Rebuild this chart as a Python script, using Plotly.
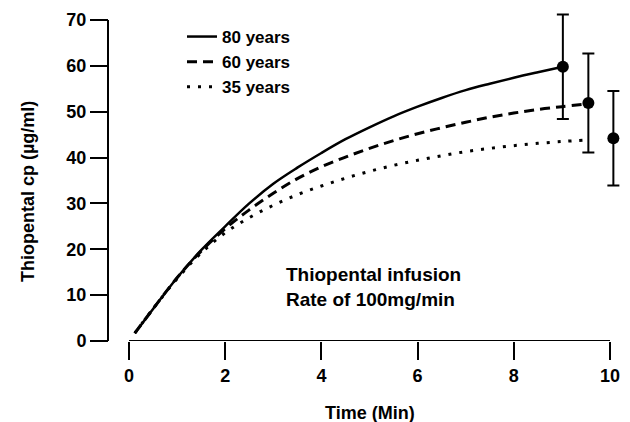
import plotly.graph_objects as go

# ---- data ----
time_80 = [0.12, 0.5, 1.0, 1.5, 2.0, 2.5, 3.0, 3.5, 4.0, 4.5, 5.0, 5.5, 6.0, 6.5, 7.0, 7.5, 8.0, 8.5, 9.02]
cp_80 = [1.7, 7.0, 13.8, 19.8, 25.0, 30.0, 34.3, 37.8, 41.0, 44.0, 46.6, 49.0, 51.1, 53.0, 54.7, 56.1, 57.4, 58.6, 59.8]

time_60 = [0.12, 0.5, 1.0, 1.5, 2.0, 2.5, 3.0, 3.5, 4.0, 4.5, 5.0, 5.5, 6.0, 6.5, 7.0, 7.5, 8.0, 8.5, 9.0, 9.45]
cp_60 = [1.7, 7.0, 13.8, 19.6, 24.5, 28.6, 32.2, 35.4, 38.0, 40.1, 42.0, 43.7, 45.2, 46.5, 47.7, 48.8, 49.7, 50.5, 51.1, 51.6]

time_35 = [0.12, 0.5, 1.0, 1.5, 2.0, 2.5, 3.0, 3.5, 4.0, 4.5, 5.0, 5.5, 6.0, 6.5, 7.0, 7.5, 8.0, 8.5, 9.0, 9.45]
cp_35 = [1.7, 7.0, 13.6, 19.2, 23.6, 26.9, 29.6, 31.9, 33.8, 35.5, 37.0, 38.3, 39.4, 40.4, 41.3, 42.0, 42.6, 43.1, 43.5, 43.8]

end_time = [9.02, 9.55, 10.07]
end_cp = [59.8, 51.9, 44.2]
end_sd = [11.4, 10.8, 10.3]

x_ticks = [0, 2, 4, 6, 8, 10]
y_ticks = [0, 10, 20, 30, 40, 50, 60, 70]

FONT = "Liberation Sans, Arial, sans-serif"
W, H = 630, 422

# pixel layout of the axes
X0_PX, X10_PX = 129, 610          # x = 0 and x = 10
Y0_PX, Y70_PX = 341, 20           # y = 0 and y = 70
x_per = (X10_PX - X0_PX) / (x_ticks[-1] - x_ticks[0])
y_per = (Y0_PX - Y70_PX) / (y_ticks[-1] - y_ticks[0])
x_range = [0, 10.4]
y_range = [0, 72.5]
x_dom = [X0_PX / W, (X0_PX + x_range[1] * x_per) / W]
y_dom = [1 - Y0_PX / H, 1 - (Y0_PX - y_range[1] * y_per) / H]

fig = go.Figure()
fig.add_trace(go.Scatter(x=time_80, y=cp_80, mode="lines", name="80 years",
                         line=dict(color="black", width=2.5, shape="spline")))
fig.add_trace(go.Scatter(x=time_60, y=cp_60, mode="lines", name="60 years",
                         line=dict(color="black", width=3, dash="10px,6px", shape="spline")))
fig.add_trace(go.Scatter(x=time_35, y=cp_35, mode="lines", name="35 years",
                         line=dict(color="black", width=3, dash="3px,8px", shape="spline")))
fig.add_trace(go.Scatter(x=end_time, y=end_cp, mode="markers", showlegend=False,
                         marker=dict(color="black", size=12),
                         error_y=dict(type="data", array=end_sd, color="black",
                                      thickness=2, width=6)))

# axis lines limited to the tick span
fig.add_shape(type="line", xref="x", yref="y", x0=x_ticks[0], x1=x_ticks[-1], y0=0, y1=0,
              line=dict(color="black", width=2))
fig.add_shape(type="line", xref="paper", yref="y", x0=108 / W, x1=108 / W,
              y0=y_ticks[0], y1=y_ticks[-1], line=dict(color="black", width=2))

fig.add_annotation(text="Thiopental infusion<br>Rate of 100mg/min",
                   xref="paper", yref="paper", x=284 / W, y=1 - 262 / H,
                   xanchor="left", yanchor="top", align="left", showarrow=False,
                   font=dict(family=FONT, size=19, color="black", weight="bold"))

# axis titles
fig.add_annotation(text="Thiopental cp (µg/ml)", xref="paper", yref="paper",
                   x=28 / W, y=1 - 192 / H, xanchor="center", yanchor="middle",
                   textangle=-90, showarrow=False,
                   font=dict(family=FONT, size=18, color="black", weight="bold"))
fig.add_annotation(text="Time (Min)", xref="paper", yref="paper",
                   x=370 / W, y=1 - 413 / H, xanchor="center", yanchor="middle",
                   showarrow=False,
                   font=dict(family=FONT, size=18, color="black", weight="bold"))

fig.update_layout(
    width=W, height=H,
    margin=dict(l=0, r=0, t=0, b=0),
    paper_bgcolor="white", plot_bgcolor="white",
    font=dict(family=FONT, size=18, color="black", weight="bold"),
    showlegend=True,
    legend=dict(x=182 / W, y=1 - 19 / H, xanchor="left", yanchor="top",
                bgcolor="rgba(0,0,0,0)", itemwidth=30,
                font=dict(family=FONT, size=17, color="black", weight="bold"),
                tracegroupgap=0),
    xaxis=dict(domain=x_dom, range=x_range, tickvals=x_ticks,
               showgrid=False, zeroline=False, showline=False,
               ticks="outside", ticklen=18, tickwidth=2,
               tickcolor="black", anchor="y",
               tickfont=dict(family=FONT, size=18, weight="bold"),
               automargin=False),
    yaxis=dict(domain=y_dom, range=y_range, tickvals=y_ticks,
               showgrid=False, zeroline=False, showline=False,
               ticks="outside", ticklen=18, tickwidth=2,
               tickcolor="black", anchor="free", position=108 / W,
               tickfont=dict(family=FONT, size=18, weight="bold"),
               automargin=False),
)

fig.write_html("out.html", config={"displayModeBar": False},
               post_script="document.body.style.margin='0';")
